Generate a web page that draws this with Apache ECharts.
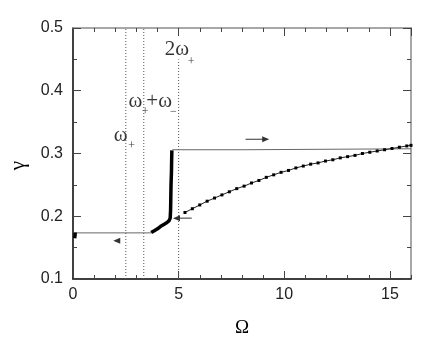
<!DOCTYPE html>
<html>
<head>
<meta charset="utf-8">
<script src="https://cdn.jsdelivr.net/npm/echarts@6/dist/echarts.min.js"></script>
<style>
html, body { margin: 0; padding: 0; background: #fff; }
#chart { width: 437px; height: 343px; }
</style>
</head>
<body>
<div id="chart"></div>
<script>
// lower branch (gray) and the short black stub at Ω≈0
const lowerFlat = [[0, 0.1735], [3.7, 0.1735]]
const originStub = [[0.08, 0.165], [0.1, 0.168], [0.1, 0.171], [0.1, 0.174]]

// thick black transition: slow rise then near-vertical jump
const riseBranch = [
  [3.7, 0.174], [3.85, 0.177], [4.0, 0.180], [4.15, 0.184], [4.3, 0.187],
  [4.45, 0.190], [4.55, 0.193], [4.6, 0.197], [4.62, 0.21], [4.63, 0.23],
  [4.64, 0.25], [4.66, 0.27], [4.67, 0.29], [4.68, 0.305],
]

// upper branch (gray), tiny step near Ω=8
const upperFlat = [[4.7, 0.306], [8.1, 0.306], [8.1, 0.3075], [16, 0.3075]]

// dotted branch with markers
const omegaDots = [
  5.3, 5.65, 6.0, 6.35, 6.7, 7.05, 7.4, 7.75, 8.1, 8.45, 8.8, 9.15, 9.5, 9.85,
  10.2, 10.55, 10.9, 11.25, 11.6, 11.95, 12.3, 12.65, 13.0, 13.35, 13.7, 14.05,
  14.4, 14.75, 15.1, 15.45, 15.8, 16.0,
]
const gammaDots = [
  0.206, 0.212, 0.218, 0.224, 0.229, 0.234, 0.239, 0.244, 0.248, 0.253, 0.257,
  0.262, 0.266, 0.270, 0.273, 0.277, 0.280, 0.283, 0.285, 0.288, 0.290, 0.293,
  0.295, 0.297, 0.300, 0.302, 0.304, 0.306, 0.308, 0.310, 0.312, 0.313,
]

// resonance frequencies (vertical dotted lines)
const resonanceX = [2.5, 3.35, 5.0]
const resonanceTop = [0.5, 0.5, 0.45]

// sweep-direction arrows
const arrowShafts = [
  [[8.17, 0.3227], [9.05, 0.3227]],
  [[5.62, 0.197], [4.95, 0.197]],
]
const arrowHeads = [
  [9.12, 0.3227, 'right'],
  [4.9, 0.197, 'left'],
  [2.07, 0.161, 'left'],
]

// text annotations: [text, Ω, γ, kind]
const notes = [
  ['2ω', 4.92, 0.465, 'main'], ['+', 5.59, 0.4465, 'sub'],
  ['ω', 2.95, 0.383, 'main'], ['+', 3.41, 0.367, 'sub'],
  ['+ω', 4.08, 0.383, 'main'], ['−', 4.75, 0.367, 'sub'],
  ['ω', 2.26, 0.328, 'main'], ['+', 2.77, 0.312, 'sub'],
]

const yTickLabels = ['0.1', '0.2', '0.3', '0.4', '0.5']

const sans = 'Liberation Sans, Arial, sans-serif'
const serif = 'Liberation Serif, Times New Roman, serif'
const tickColor = '#444'
const frameGray = '#8a8a8a'

const chart = echarts.init(document.getElementById('chart'))

function xAxisOf(position, interval, major, opts) {
  return Object.assign({
    type: 'value',
    position: position,
    min: 0,
    max: 16,
    interval: interval,
    axisLine: { show: false, onZero: false },
    axisTick: { show: true, inside: true, length: major ? 8 : 4, lineStyle: { color: tickColor, width: 1 } },
    axisLabel: { show: false },
    splitLine: { show: false },
  }, opts || {})
}

const series = []

resonanceX.forEach((x, i) => {
  series.push({
    type: 'line',
    data: [[x, 0.1], [x, resonanceTop[i]]],
    showSymbol: false,
    silent: true,
    lineStyle: { color: '#555', width: 1, type: [1, 2] },
  })
})

series.push({
  type: 'line', data: lowerFlat, showSymbol: false,
  lineStyle: { color: '#666', width: 1 },
})
series.push({
  type: 'line', data: upperFlat, showSymbol: false,
  lineStyle: { color: '#666', width: 1 },
})
series.push({
  type: 'line', data: originStub, showSymbol: false,
  lineStyle: { color: '#000', width: 3.5 },
})
series.push({
  type: 'line', data: riseBranch, showSymbol: false,
  lineStyle: { color: '#000', width: 3.5 },
})
series.push({
  type: 'line',
  data: omegaDots.map((x, i) => [x, gammaDots[i]]),
  symbol: 'rect',
  symbolSize: 3,
  showAllSymbol: true,
  itemStyle: { color: '#000' },
  lineStyle: { color: '#222', width: 1 },
})

arrowShafts.forEach((seg) => {
  series.push({
    type: 'line', data: seg, showSymbol: false,
    lineStyle: { color: '#333', width: 1 },
  })
})
series.push({
  type: 'scatter',
  symbol: 'triangle',
  symbolSize: [6, 7],
  itemStyle: { color: '#000' },
  data: arrowHeads.map((a) => ({
    value: [a[0], a[1]],
    symbolRotate: a[2] === 'left' ? 90 : -90,
  })),
})

series.push({
  type: 'scatter',
  symbolSize: 0,
  silent: true,
  data: notes.map((n) => ({
    value: [n[1], n[2]],
    label: {
      show: true,
      position: 'inside',
      formatter: n[0],
      color: '#000',
      fontFamily: serif,
      fontSize: n[3] === 'main' ? 21 : 12,
    },
  })),
})

chart.setOption({
  animation: false,
  grid: { left: 65, right: 26, top: 28, bottom: 62 },
  xAxis: [
    xAxisOf('bottom', 5, true, {
      axisLine: { show: true, onZero: false, lineStyle: { color: '#000', width: 1.5 } },
      axisLabel: { show: true, showMaxLabel: false, color: '#222', fontSize: 16, fontFamily: sans, margin: 8 },
      name: 'Ω',
      nameLocation: 'middle',
      nameGap: 40,
      nameTextStyle: { fontFamily: serif, fontSize: 19, color: '#000' },
    }),
    xAxisOf('bottom', 1, false),
    xAxisOf('top', 5, true, {
      axisLine: { show: true, onZero: false, lineStyle: { color: frameGray, width: 1.5 } },
    }),
    xAxisOf('top', 1, false),
  ],
  yAxis: [
    {
      type: 'value',
      position: 'left',
      min: 0.1,
      max: 0.5,
      interval: 0.1,
      axisLine: { show: true, onZero: false, lineStyle: { color: '#000', width: 1.5 } },
      axisTick: { show: true, inside: true, length: 8, lineStyle: { color: tickColor } },
      minorTick: { show: true, splitNumber: 2, length: 4, lineStyle: { color: tickColor } },
      splitLine: { show: false },
      axisLabel: {
        color: '#222', fontSize: 16, fontFamily: sans, margin: 10,
        formatter: (v) => yTickLabels[Math.round((v - 0.1) * 10)],
      },
      name: 'γ',
      nameLocation: 'middle',
      nameGap: 44,
      nameRotate: 90,
      nameTextStyle: { fontFamily: serif, fontSize: 21, color: '#000', padding: [0, 24, 0, 0] },
    },
    {
      type: 'value',
      position: 'right',
      min: 0.1,
      max: 0.5,
      interval: 0.1,
      axisLine: { show: true, onZero: false, lineStyle: { color: frameGray, width: 1.5 } },
      axisTick: { show: true, inside: true, length: 8, lineStyle: { color: tickColor } },
      minorTick: { show: true, splitNumber: 2, length: 4, lineStyle: { color: tickColor } },
      splitLine: { show: false },
      axisLabel: { show: false },
    },
  ],
  series: series,
})
</script>
</body>
</html>
